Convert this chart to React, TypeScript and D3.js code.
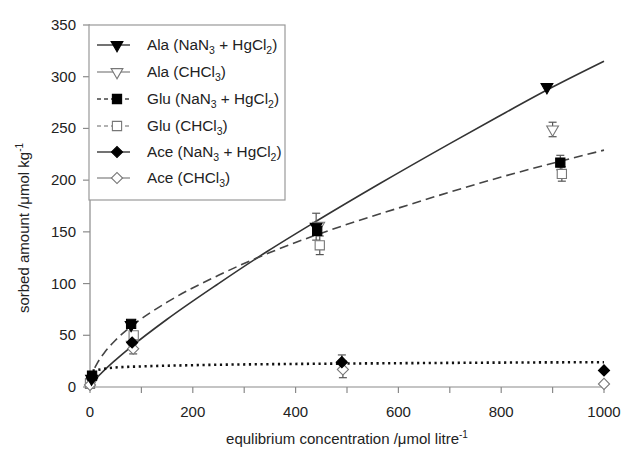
import React from "react";
import * as d3 from "d3";

// ---- data ----
// [concentration, sorbed amount, error]
const alaNa: number[][] = [[3, 8, 0], [80, 60, 0], [440, 155, 13], [889, 290, 0]];
const alaCh: number[][] = [[3, 5, 0], [82, 41, 0], [445, 156, 0], [900, 249, 7]];
const gluNa: number[][] = [[4, 11, 0], [80, 61, 0], [442, 151, 0], [915, 217, 7]];
const gluCh: number[][] = [[0, 3, 0], [85, 50, 0], [447, 137, 9], [918, 206, 7]];
const aceNa: number[][] = [[4, 9, 0], [82, 43, 0], [490, 24, 7], [1000, 16, 0]];
const aceCh: number[][] = [[0, 2, 0], [84, 37, 5], [492, 17, 8], [1000, 3, 0]];

// fitted curves
const alaFitX = [0, 5, 20, 50, 80, 150, 250, 346, 440, 564, 700, 792, 900, 1000];
const alaFitY = [0, 3.9, 12.3, 26.3, 38.9, 65.5, 100, 131.5, 160.2, 196.7, 235.3, 260.8, 290, 315];
const gluFitX = [1, 3, 6, 15, 30, 50, 80, 150, 250, 350, 440, 600, 800, 1000];
const gluFitY = [5.5, 10, 14.6, 23.7, 34.5, 45.5, 58.5, 82, 108, 130, 147, 173, 203, 229];
const aceFitX = [5, 50, 100, 200, 400, 600, 800, 1000];
const aceFitY = [15.7, 18.9, 19.9, 21.1, 22.3, 23.0, 23.6, 24.0];

const xTicks = [0, 100, 200, 300, 400, 500, 600, 700, 800, 900, 1000];
const xLabels = [0, 200, 400, 600, 800, 1000];
const yTicks = [0, 50, 100, 150, 200, 250, 300, 350];

const W = 627, H = 454;
const FONT = "'Liberation Sans', Arial, sans-serif";

type Shape = "tri" | "sq" | "dia";

function markerPath(shape: Shape): string {
  if (shape === "tri") return d3.symbol().type(d3.symbolTriangle).size(60)() as string;
  if (shape === "sq") return d3.symbol().type(d3.symbolSquare).size(85)() as string;
  return d3.symbol().type(d3.symbolSquare).size(62)() as string;
}
function markerRot(shape: Shape): number {
  if (shape === "tri") return 180;
  if (shape === "dia") return 45;
  return 0;
}

const series: { name: string; data: number[][]; shape: Shape; filled: boolean; dash: string }[] = [
  { name: "Ala", data: alaNa, shape: "tri", filled: true, dash: "" },
  { name: "Ala", data: alaCh, shape: "tri", filled: false, dash: "" },
  { name: "Glu", data: gluNa, shape: "sq", filled: true, dash: "4,3" },
  { name: "Glu", data: gluCh, shape: "sq", filled: false, dash: "4,3" },
  { name: "Ace", data: aceNa, shape: "dia", filled: true, dash: "" },
  { name: "Ace", data: aceCh, shape: "dia", filled: false, dash: "" },
];

export default function App() {
  const x = d3.scaleLinear().domain([0, 1000]).range([90, 604]);
  const y = d3.scaleLinear().domain([0, 350]).range([387, 25]);

  const line = d3.line<number[]>().x((d) => x(d[0])).y((d) => y(d[1])).curve(d3.curveMonotoneX);
  const alaPath = line(alaFitX.map((v, i) => [v, alaFitY[i]])) as string;
  const gluPath = line(gluFitX.map((v, i) => [v, gluFitY[i]])) as string;
  const acePath = line(aceFitX.map((v, i) => [v, aceFitY[i]])) as string;

  const axisColor = "#8a8a8a";
  const order = [1, 3, 5, 0, 2, 4]; // open markers below filled ones

  const legendY = [45, 72, 99, 126, 152, 178];

  return (
    <svg width={W} height={H} style={{ position: "absolute", left: 0, top: 0, background: "#fff" }} fontFamily={FONT}>
      <rect x={0} y={0} width={W} height={H} fill="#fff" />
      {/* fitted curves */}
      <path d={alaPath} fill="none" stroke="#333" strokeWidth={1.6} />
      <path d={gluPath} fill="none" stroke="#444" strokeWidth={1.6} strokeDasharray="9,5" />
      <path d={acePath} fill="none" stroke="#111" strokeWidth={2.6} strokeDasharray="2.2,3.6" />

      {/* axes */}
      <line x1={90} x2={90} y1={25} y2={387} stroke={axisColor} strokeWidth={1.2} />
      <line x1={90} x2={604} y1={387} y2={387} stroke={axisColor} strokeWidth={1.2} />
      {yTicks.map((t) => (
        <g key={"y" + t}>
          <line x1={83} x2={90} y1={y(t)} y2={y(t)} stroke={axisColor} strokeWidth={1.2} />
          <text x={76} y={y(t) + 5} textAnchor="end" fontSize={15} fill="#222">{t}</text>
        </g>
      ))}
      {xTicks.map((t) => (
        <line key={"xt" + t} x1={x(t)} x2={x(t)} y1={387} y2={393} stroke={axisColor} strokeWidth={1.2} />
      ))}
      {xLabels.map((t) => (
        <text key={"xl" + t} x={x(t)} y={417} textAnchor="middle" fontSize={15} fill="#222">{t}</text>
      ))}

      {/* error bars */}
      {series.map((s, si) =>
        s.data.filter((d) => d[2] > 0).map((d, i) => (
          <g key={"e" + si + "-" + i} stroke="#555" strokeWidth={1.2}>
            <line x1={x(d[0])} x2={x(d[0])} y1={y(d[1] - d[2])} y2={y(d[1] + d[2])} />
            <line x1={x(d[0]) - 4} x2={x(d[0]) + 4} y1={y(d[1] - d[2])} y2={y(d[1] - d[2])} />
            <line x1={x(d[0]) - 4} x2={x(d[0]) + 4} y1={y(d[1] + d[2])} y2={y(d[1] + d[2])} />
          </g>
        ))
      )}

      {/* markers */}
      {order.map((si) => {
        const s = series[si];
        return s.data.map((d, i) => (
          <path
            key={"m" + si + "-" + i}
            d={markerPath(s.shape)}
            transform={`translate(${x(d[0])},${y(d[1])}) rotate(${markerRot(s.shape)})`}
            fill={s.filled ? "#000" : "#fff"}
            stroke={s.filled ? "#000" : "#777"}
            strokeWidth={1.1}
          />
        ));
      })}

      {/* legend */}
      <rect x={89} y={25} width={196} height={175} fill="#fff" stroke="#999" strokeWidth={1.2} />
      {series.map((s, i) => {
        const ly = legendY[i];
        return (
          <g key={"lg" + i}>
            <line x1={97} x2={130} y1={ly} y2={ly} stroke={s.filled ? "#444" : "#999"} strokeWidth={1.3} strokeDasharray={s.dash} />
            <path
              d={markerPath(s.shape)}
              transform={`translate(${117},${ly}) rotate(${markerRot(s.shape)})`}
              fill={s.filled ? "#000" : "#fff"}
              stroke={s.filled ? "#000" : "#777"}
              strokeWidth={1.1}
            />
            <text x={147} y={ly + 5} fontSize={15.3} fill="#222">
              {s.filled ? (
                <>
                  {s.name} (NaN<tspan fontSize={10.5} dy={4}>3</tspan><tspan dy={-4}> + HgCl</tspan><tspan fontSize={10.5} dy={4}>2</tspan><tspan dy={-4}>)</tspan>
                </>
              ) : (
                <>
                  {s.name} (CHCl<tspan fontSize={10.5} dy={4}>3</tspan><tspan dy={-4}>)</tspan>
                </>
              )}
            </text>
          </g>
        );
      })}

      {/* axis titles */}
      <text x={347} y={444} textAnchor="middle" fontSize={15} fill="#222">
        equlibrium concentration /μmol litre<tspan fontSize={10} dy={-6}>-1</tspan>
      </text>
      <text transform="translate(29,228) rotate(-90)" textAnchor="middle" fontSize={15} fill="#222">
        sorbed amount /μmol kg<tspan fontSize={10} dy={-6}>-1</tspan>
      </text>
    </svg>
  );
}
